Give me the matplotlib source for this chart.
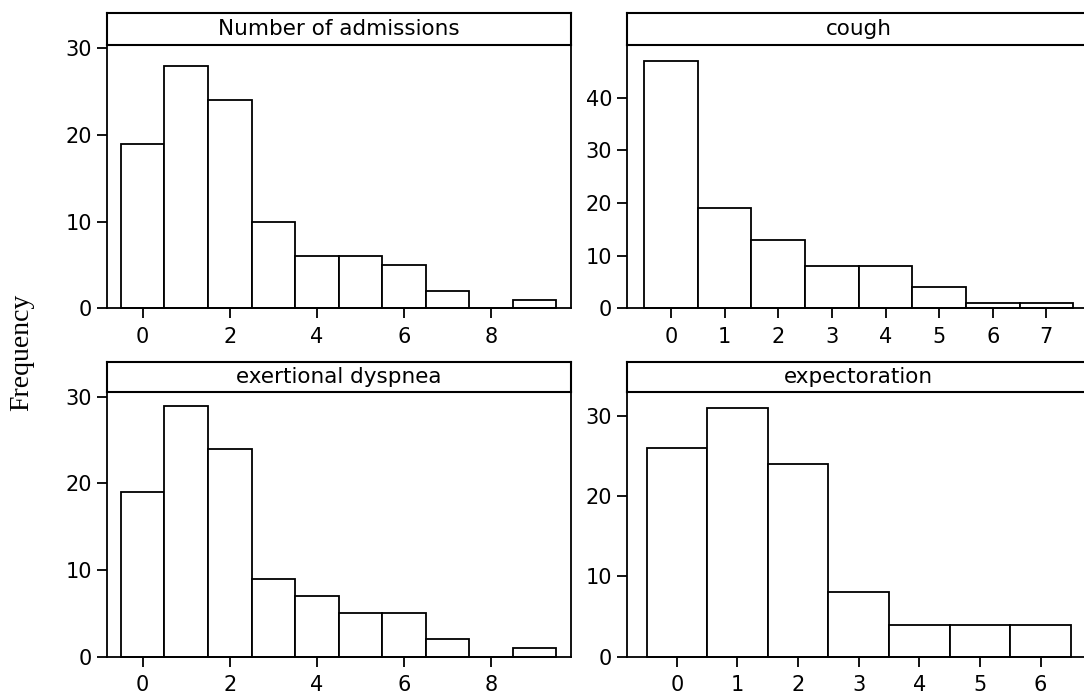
import numpy as np
import matplotlib
matplotlib.use("Agg")
import matplotlib.pyplot as plt

# counts per integer value (0, 1, 2, ...)
titles = ['Number of admissions', 'cough', 'exertional dyspnea', 'expectoration']
admissions = [19, 28, 24, 10, 6, 6, 5, 2, 0, 1]
cough = [47, 19, 13, 8, 8, 4, 1, 1]
dyspnea = [19, 29, 24, 9, 7, 5, 5, 2, 0, 1]
expectoration = [26, 31, 24, 8, 4, 4, 4]

counts = [admissions, cough, dyspnea, expectoration]
ytops = [30.4, 50, 30.6, 33]
yticks = [[0, 10, 20, 30], [0, 10, 20, 30, 40], [0, 10, 20, 30], [0, 10, 20, 30]]
xsteps = [2, 1, 2, 1]

W, H = 1084, 691
fig = plt.figure(figsize=(W / 100, H / 100), dpi=100)
plt.rcParams['font.family'] = 'DejaVu Sans'

# panel boxes in pixels: (left, top of strip, strip bottom, box bottom)
lefts = [106.7, 626.7, 106.7, 626.7]
strip_tops = [13.3, 13.3, 361.7, 361.7]
box_tops = [45, 45, 391.7, 391.7]
box_bots = [308.3, 308.3, 656.7, 656.7]
pw = 464

lw = 1.3
for i in range(4):
    x0 = lefts[i] / W
    ax = fig.add_axes([x0, 1 - box_bots[i] / H, pw / W, (box_bots[i] - box_tops[i]) / H])
    c = counts[i]
    vals = np.arange(len(c))
    ax.bar(vals, c, width=1.0, color='white', edgecolor='black', linewidth=lw,
           clip_on=False)
    ax.set_xlim(-0.827, len(c) - 1 + 0.827)
    ax.set_ylim(0, ytops[i])
    ax.set_yticks(yticks[i])
    ax.set_xticks(np.arange(0, len(c), xsteps[i]))
    ax.tick_params(axis='both', length=7.5, width=lw, labelsize=15, direction='out')
    ax.tick_params(axis='y', pad=3)
    ax.tick_params(axis='x', pad=6)
    for s in ax.spines.values():
        s.set_linewidth(lw)

    sax = fig.add_axes([x0, 1 - box_tops[i] / H, pw / W, (box_tops[i] - strip_tops[i]) / H])
    sax.set_xticks([])
    sax.set_yticks([])
    for s in sax.spines.values():
        s.set_linewidth(1.5)
    sax.text(0.5, 0.5, titles[i], ha='center', va='center', fontsize=15.5,
             transform=sax.transAxes)

fig.text(22 / W, 1 - 352 / H, 'Frequency', rotation=90, ha='center', va='center',
         fontsize=20, family='Liberation Serif')

fig.savefig('out.png', dpi=100)
